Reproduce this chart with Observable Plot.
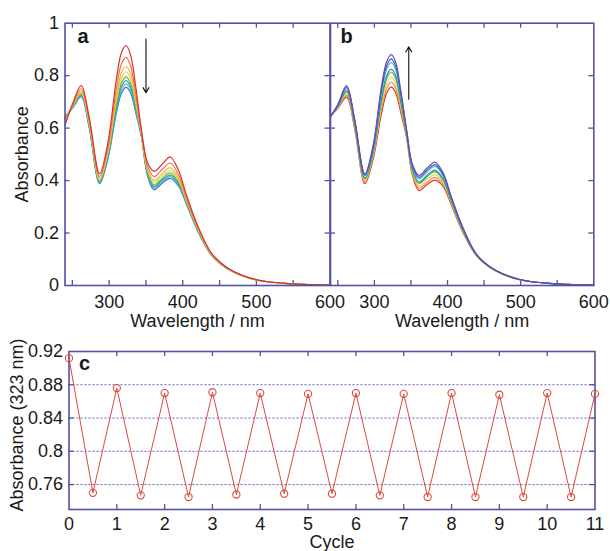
<!DOCTYPE html>
<html><head><meta charset="utf-8">
<script src="https://cdn.jsdelivr.net/npm/d3@7"></script>
<script src="https://cdn.jsdelivr.net/npm/@observablehq/plot@0.6"></script>
<style>
body{margin:0;background:#fff;}
#wrap{position:relative;width:610px;height:551px;color:#1a1a1a;}
#wrap svg{position:absolute;left:0;top:0;overflow:visible !important;background:transparent !important;}
</style></head><body><div id="wrap"></div>
<script>
// ---- data ----
const wavelengths = [240, 250, 262, 273, 287, 298, 310, 317, 323, 329, 336, 344, 352, 361, 372, 383, 394, 405, 420, 440, 465, 500, 550, 600];

// panel a (decreasing, red first -> blue last)
const aRed    = [0.610,0.690,0.762,0.640,0.426,0.540,0.790,0.890,0.915,0.880,0.760,0.590,0.470,0.435,0.462,0.490,0.440,0.345,0.230,0.120,0.060,0.022,0.006,0.002];
const aOrange = [0.620,0.686,0.750,0.629,0.415,0.523,0.754,0.847,0.870,0.839,0.732,0.583,0.456,0.415,0.442,0.467,0.423,0.335,0.224,0.118,0.059,0.022,0.006,0.002];
const aAmber  = [0.628,0.683,0.741,0.620,0.407,0.510,0.725,0.813,0.835,0.808,0.710,0.578,0.445,0.400,0.426,0.449,0.410,0.328,0.220,0.116,0.059,0.022,0.006,0.002];
const aYellow = [0.632,0.681,0.736,0.615,0.402,0.503,0.709,0.793,0.815,0.789,0.698,0.574,0.439,0.391,0.417,0.439,0.403,0.323,0.218,0.115,0.058,0.021,0.006,0.002];
const aGreen  = [0.636,0.679,0.731,0.610,0.398,0.495,0.693,0.774,0.795,0.771,0.685,0.571,0.433,0.383,0.408,0.429,0.395,0.319,0.215,0.114,0.058,0.021,0.006,0.002];
const aTeal   = [0.639,0.677,0.727,0.606,0.394,0.490,0.681,0.760,0.781,0.758,0.676,0.569,0.428,0.376,0.402,0.421,0.390,0.316,0.213,0.113,0.057,0.021,0.006,0.002];
const aSky    = [0.642,0.676,0.723,0.603,0.391,0.485,0.670,0.747,0.768,0.747,0.668,0.567,0.424,0.371,0.396,0.415,0.385,0.313,0.212,0.113,0.057,0.021,0.006,0.002];
const aBlue   = [0.645,0.675,0.720,0.600,0.388,0.480,0.660,0.735,0.755,0.735,0.660,0.565,0.420,0.365,0.390,0.408,0.380,0.310,0.210,0.112,0.057,0.021,0.006,0.002];
const aColors = ["#d8322c", "#ec7448", "#f2b040", "#e4d84c", "#56b04e", "#2ea69c", "#5ab2e4", "#3a6cc8"];

// panel b (increasing, red first -> purple last)
const bRed    = [0.645,0.675,0.718,0.598,0.388,0.478,0.660,0.735,0.756,0.735,0.660,0.565,0.420,0.362,0.385,0.402,0.378,0.308,0.208,0.112,0.057,0.021,0.006,0.002];
const bOrange = [0.645,0.677,0.725,0.604,0.394,0.486,0.676,0.753,0.775,0.753,0.673,0.570,0.426,0.371,0.394,0.412,0.386,0.313,0.211,0.113,0.057,0.021,0.006,0.002];
const bYellow = [0.645,0.680,0.732,0.609,0.400,0.494,0.693,0.772,0.794,0.771,0.686,0.574,0.433,0.380,0.405,0.423,0.394,0.318,0.214,0.114,0.058,0.021,0.006,0.002];
const bGreen  = [0.645,0.682,0.739,0.615,0.406,0.502,0.709,0.791,0.814,0.790,0.700,0.579,0.440,0.389,0.415,0.434,0.402,0.323,0.217,0.115,0.058,0.021,0.006,0.002];
const bTeal   = [0.645,0.683,0.743,0.619,0.409,0.507,0.719,0.802,0.825,0.801,0.708,0.582,0.444,0.394,0.420,0.440,0.407,0.326,0.219,0.115,0.058,0.022,0.006,0.002];
const bSky    = [0.645,0.686,0.751,0.626,0.417,0.518,0.740,0.826,0.850,0.824,0.725,0.588,0.452,0.406,0.433,0.454,0.418,0.332,0.223,0.117,0.059,0.022,0.006,0.002];
const bBlue   = [0.645,0.688,0.756,0.630,0.421,0.523,0.751,0.839,0.864,0.837,0.734,0.591,0.457,0.412,0.440,0.461,0.423,0.336,0.225,0.117,0.059,0.022,0.006,0.002];
const bPurple = [0.645,0.690,0.762,0.635,0.426,0.530,0.765,0.855,0.880,0.852,0.745,0.595,0.462,0.420,0.448,0.470,0.430,0.340,0.228,0.118,0.059,0.022,0.006,0.002];
const bColors = ["#d8322c", "#ee8a4a", "#e8d04a", "#4cae4c", "#2e9e9a", "#5ab0e6", "#2f5fc4", "#7048a8"];

// panel c
const cycleX   = [0,0.5,1,1.5,2,2.5,3,3.5,4,4.5,5,5.5,6,6.5,7,7.5,8,8.5,9,9.5,10,10.5,11];
const cycleAbs = [0.912,0.750,0.876,0.747,0.870,0.745,0.871,0.748,0.870,0.749,0.869,0.749,0.870,0.747,0.869,0.745,0.870,0.745,0.868,0.745,0.870,0.745,0.869];

const wlTickLabels = [300, 400, 500, 600];
const wlMinorTicks = [250, 300, 350, 400, 450, 500, 550];
const absTickLabels = [0, 0.2, 0.4, 0.6, 0.8, 1];
const absMinorTicks = [0.2, 0.4, 0.6, 0.8];
const cycleTickLabels = [0,1,2,3,4,5,6,7,8,9,10,11];
const cycleMinorTicks = [1,2,3,4,5,6,7,8,9,10];
const cAbsTickLabels = [0.76, 0.8, 0.84, 0.88, 0.92];
const cGrid = [0.76, 0.8, 0.84, 0.88];

// ---- style ----
const FONT = "'Liberation Sans', Arial, Helvetica, sans-serif";
const FRAME = "#5252a6";
const GRID = "#4848aa";
const RED = "#dc4a3c";
const wrap = document.getElementById("wrap");

function toRows(curves, colors) {
  return curves.flatMap((vals, i) => vals.map((v, j) => ({wl: wavelengths[j], abs: v, color: colors[i], curve: i})));
}

function spectrumPanel({curves, colors, left, right, letter, letterDx, arrow, showY}) {
  const top = 22.7, bottom = 285, H = 330;
  const innerH = bottom - top, innerW = right - left;
  const marks = [
    Plot.tickX(wlMinorTicks, {x: d => d, insetTop: innerH - 5, stroke: FRAME, strokeWidth: 1.3}),
    Plot.tickX(wlMinorTicks, {x: d => d, insetBottom: innerH - 5, stroke: FRAME, strokeWidth: 1.3}),
    Plot.tickY(absMinorTicks, {y: d => d, insetRight: innerW - 5, stroke: FRAME, strokeWidth: 1.3}),
    Plot.tickY(absMinorTicks, {y: d => d, insetLeft: innerW - 5, stroke: FRAME, strokeWidth: 1.3}),
    Plot.line(toRows(curves, colors), {x: "wl", y: "abs", z: "curve", stroke: "color", strokeWidth: 1.2, curve: "catmull-rom"}),
    Plot.arrow([arrow], {x1: "x", y1: "y1", x2: "x", y2: "y2", stroke: "#111", strokeWidth: 1.1, headLength: 8}),
    Plot.frame({stroke: FRAME, strokeWidth: 1.6}),
    Plot.axisX(wlTickLabels, {tickSize: 0, tickPadding: 10, fontSize: 18, label: null}),
    Plot.text(["Wavelength / nm"], {frameAnchor: "bottom", dy: 36, fontSize: 18, textAnchor: "middle", lineAnchor: "middle"}),
    Plot.text([letter], {frameAnchor: "top-left", dx: letterDx, dy: 13.5, fontSize: 20, fontWeight: "bold", textAnchor: "start", lineAnchor: "middle"})
  ];
  if (showY) {
    marks.push(Plot.axisY(absTickLabels, {tickSize: 0, tickPadding: 6, fontSize: 18, label: null, tickFormat: d => String(d)}));
    marks.push(Plot.text(["Absorbance"], {frameAnchor: "left", dx: -42.5, rotate: -90, fontSize: 18, textAnchor: "middle", lineAnchor: "middle"}));
  }
  return Plot.plot({
    width: 610, height: H,
    marginLeft: left, marginRight: 610 - right, marginTop: top, marginBottom: H - bottom,
    x: {domain: [240, 600]},
    y: showY ? {domain: [0, 1]} : {domain: [0, 1], axis: null},
    style: {fontFamily: FONT, fontSize: "18px", background: "transparent", overflow: "visible", color: "#1a1a1a"},
    marks
  });
}

const panelA = spectrumPanel({
  curves: [aBlue, aSky, aTeal, aGreen, aYellow, aAmber, aOrange, aRed],
  colors: aColors.slice().reverse(),
  left: 64.5, right: 329.5, letter: "a", letterDx: 12.5,
  arrow: {x: 350, y1: 0.94, y2: 0.735}, showY: true
});
const panelB = spectrumPanel({
  curves: [bRed, bOrange, bYellow, bGreen, bTeal, bSky, bBlue, bPurple],
  colors: bColors,
  left: 330, right: 593.3, letter: "b", letterDx: 10,
  arrow: {x: 347, y1: 0.71, y2: 0.91}, showY: false
});

const cycleRows = cycleX.map((x, i) => ({cycle: x, abs: cycleAbs[i]}));
const cTop = 351, cBottom = 509, cLeft = 68.5, cRight = 594.5;
const cInnerH = cBottom - cTop, cInnerW = cRight - cLeft;
const panelC = Plot.plot({
  width: 610, height: 551,
  marginLeft: cLeft, marginRight: 610 - cRight, marginTop: cTop, marginBottom: 551 - cBottom,
  x: {domain: [0, 11]},
  y: {domain: [0.73, 0.92]},
  style: {fontFamily: FONT, fontSize: "18px", background: "transparent", overflow: "visible", color: "#1a1a1a"},
  marks: [
    Plot.ruleY(cGrid, {y: d => d, stroke: GRID, strokeDasharray: "2,2", strokeWidth: 0.9}),
    Plot.tickX(cycleMinorTicks, {x: d => d, insetTop: cInnerH - 5, stroke: FRAME, strokeWidth: 1.3}),
    Plot.tickX(cycleMinorTicks, {x: d => d, insetBottom: cInnerH - 5, stroke: FRAME, strokeWidth: 1.3}),
    Plot.tickY(cGrid, {y: d => d, insetRight: cInnerW - 5, stroke: FRAME, strokeWidth: 1.3}),
    Plot.tickY(cGrid, {y: d => d, insetLeft: cInnerW - 5, stroke: FRAME, strokeWidth: 1.3}),
    Plot.frame({stroke: FRAME, strokeWidth: 1.6}),
    Plot.line(cycleRows, {x: "cycle", y: "abs", stroke: RED, strokeWidth: 1}),
    Plot.dot(cycleRows, {x: "cycle", y: "abs", r: 3.6, stroke: RED, strokeWidth: 1.1, fill: "none"}),
    Plot.axisX(cycleTickLabels, {tickSize: 0, tickPadding: 8, fontSize: 18, label: null}),
    Plot.axisY(cAbsTickLabels, {tickSize: 0, tickPadding: 6, fontSize: 18, label: null, tickFormat: d => String(d)}),
    Plot.text(["Cycle"], {frameAnchor: "bottom", dy: 32.5, fontSize: 18, textAnchor: "middle", lineAnchor: "middle"}),
    Plot.text(["Absorbance (323 nm)"], {frameAnchor: "left", dx: -52, dy: -5.5, rotate: -90, fontSize: 18, textAnchor: "middle", lineAnchor: "middle"}),
    Plot.text(["c"], {frameAnchor: "top-left", dx: 10, dy: 12, fontSize: 20, fontWeight: "bold", textAnchor: "start", lineAnchor: "middle"})
  ]
});

wrap.append(panelA, panelB, panelC);
</script></body></html>
